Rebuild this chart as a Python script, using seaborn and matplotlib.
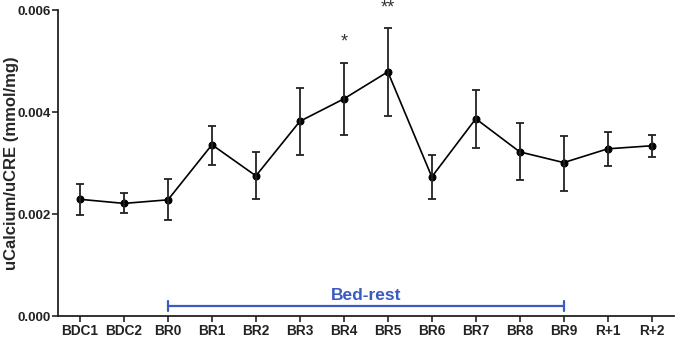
import matplotlib
matplotlib.use("Agg")
import matplotlib.pyplot as plt
import seaborn as sns
import numpy as np
import pandas as pd

categories = ["BDC1", "BDC2", "BR0", "BR1", "BR2", "BR3", "BR4", "BR5",
              "BR6", "BR7", "BR8", "BR9", "R+1", "R+2"]
means = [0.00229, 0.00221, 0.00228, 0.00336, 0.00275, 0.00382, 0.00426, 0.00479,
         0.00273, 0.00387, 0.00322, 0.00301, 0.00328, 0.00334]
err_upper = [0.00260, 0.00242, 0.00268, 0.00373, 0.00322, 0.00447, 0.00496, 0.00564,
             0.00316, 0.00443, 0.00379, 0.00354, 0.00361, 0.00355]
err_lower = [0.00199, 0.00203, 0.00188, 0.00297, 0.00230, 0.00316, 0.00355, 0.00393,
             0.00230, 0.00330, 0.00266, 0.00246, 0.00295, 0.00311]
stars = {"BR4": "*", "BR5": "**"}
yticks = [0.000, 0.002, 0.004, 0.006]

sns.set_style("ticks")
plt.rcParams["font.family"] = ["Liberation Sans", "DejaVu Sans"]

df = pd.DataFrame({"x": np.arange(len(categories)), "y": means})

fig = plt.figure(figsize=(6.75, 3.37), dpi=100)
ax = fig.add_axes([0.086, 0.062, 0.912, 0.908])

sns.lineplot(data=df, x="x", y="y", ax=ax, color="black", linewidth=1.2,
             marker="o", markersize=5, markeredgecolor="black")
lo = np.array(means) - np.array(err_lower)
hi = np.array(err_upper) - np.array(means)
ax.errorbar(df["x"], df["y"], yerr=[lo, hi], fmt="none", ecolor="#222222",
            elinewidth=1.3, capsize=3, capthick=1.3)

for cat, s in stars.items():
    i = categories.index(cat)
    ax.text(i, err_upper[i] + 0.00024, s, ha="center", va="bottom",
            fontsize=13, color="#333333", clip_on=False)

# Bed-rest bracket
blue = "#3a5bbf"
i0, i1 = categories.index("BR0"), categories.index("BR9")
yb = 0.0002
ax.plot([i0, i1], [yb, yb], color=blue, lw=1.6, solid_capstyle="butt")
ax.plot([i0, i0], [yb - 0.0001, yb + 0.0001], color=blue, lw=1.6)
ax.plot([i1, i1], [yb - 0.0001, yb + 0.0001], color=blue, lw=1.6)
ax.text((i0 + i1) / 2, yb + 0.00006, "Bed-rest", ha="center", va="bottom",
        color=blue, fontsize=12.5, fontweight="bold")

ax.set_xlim(-0.5, len(categories) - 0.5)
ax.set_ylim(0, 0.006)
ax.set_xticks(np.arange(len(categories)))
ax.set_xticklabels(categories, fontweight="bold", fontsize=9.8)
ax.set_yticks(yticks)
ax.set_yticklabels([f"{v:.3f}" for v in yticks], fontweight="bold", fontsize=9.6)
ax.set_xlabel("")
ax.set_ylabel("uCalcium/uCRE (mmol/mg)", fontweight="bold", fontsize=12)
ax.yaxis.set_label_coords(-0.063, 0.5)
ax.tick_params(axis="both", length=4, width=1.2, colors="#222222", pad=1.5)
for sp in ["left", "bottom"]:
    ax.spines[sp].set_linewidth(1.3)
    ax.spines[sp].set_color("#222222")
sns.despine(ax=ax)

fig.savefig("out.png", dpi=100)
